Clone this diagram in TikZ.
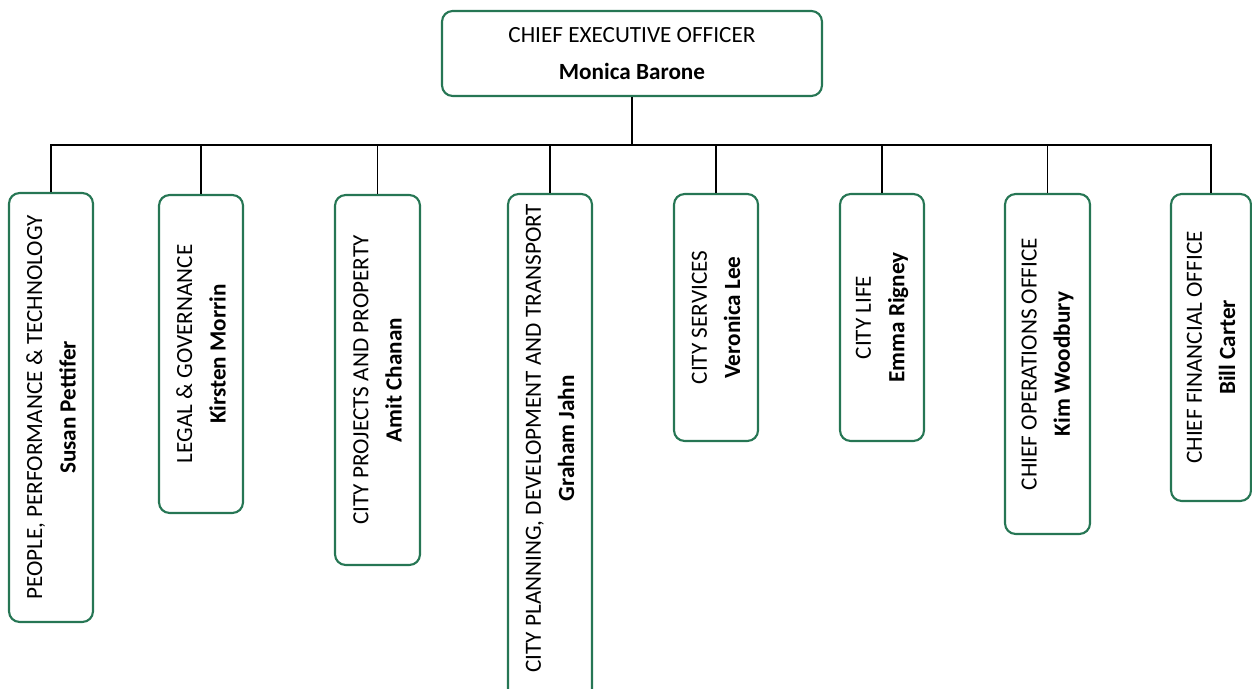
\documentclass[tikz,border=0pt]{standalone}
\usepackage{fontspec}
\setmainfont{Carlito}
\definecolor{boxgreen}{RGB}{38,118,84}
\tikzset{
  unit/.style={draw=boxgreen, line width=1.2pt, rounded corners=6pt, fill=white,
    inner sep=0pt},
  txt/.style={align=center, inner sep=0pt,
    font=\fontsize{13.2}{19}\selectfont},
  link/.style={draw=black, line width=0.6pt}
}
\begin{document}
\begin{tikzpicture}[x=0.02cm, y=-0.02cm]
    % page frame
    \useasboundingbox (0,0) rectangle (1252,689);

    % Chief executive
    \node[unit, txt, minimum width=7.6cm, minimum height=1.7cm,
      font=\fontsize{13.2}{21}\selectfont] (ceo) at (632,53.5)
      {CHIEF EXECUTIVE OFFICER\\\textbf{Monica Barone}};

    % Bus line
    \coordinate (bus) at (632,145);

    % Directors (boxes)
    \node[unit, minimum width=1.68cm, minimum height=8.58cm] (ppt) at (51,407.5) {};
    \node[unit, minimum width=1.68cm, minimum height=6.36cm] (legal) at (201,354) {};
    \node[unit, minimum width=1.7cm, minimum height=7.4cm] (projects) at (377.5,380) {};
    \node[unit, minimum width=1.68cm, minimum height=10.32cm] (planning) at (550,452) {};
    \node[unit, minimum width=1.68cm, minimum height=4.94cm] (services) at (716,317.5) {};
    \node[unit, minimum width=1.68cm, minimum height=4.94cm] (life) at (882,317.5) {};
    \node[unit, minimum width=1.7cm, minimum height=6.8cm] (coo) at (1047.5,364) {};
    \node[unit, minimum width=1.6cm, minimum height=6.14cm] (cfo) at (1211,347.5) {};

    % Directors (texts)
    \node[txt, rotate=90] (ppt-t) at (ppt)
      {PEOPLE, PERFORMANCE \& TECHNOLOGY\\\textbf{Susan Pettifer}};
    \node[txt, rotate=90] (legal-t) at (legal)
      {LEGAL \& GOVERNANCE\\\textbf{Kirsten Morrin}};
    \node[txt, rotate=90] (projects-t) at (projects)
      {CITY PROJECTS AND PROPERTY\\\textbf{Amit Chanan}};
    \node[txt, rotate=90, anchor=east] (planning-t) at ([yshift=-6pt]planning.north)
      {CITY PLANNING, DEVELOPMENT AND TRANSPORT\\\textbf{Graham Jahn}};
    \node[txt, rotate=90] (services-t) at (services)
      {CITY SERVICES\\\textbf{Veronica Lee}};
    \node[txt, rotate=90] (life-t) at (life)
      {CITY LIFE\\\textbf{Emma Rigney}};
    \node[txt, rotate=90] (coo-t) at (coo)
      {CHIEF OPERATIONS OFFICE\\\textbf{Kim Woodbury}};
    \node[txt, rotate=90] (cfo-t) at (cfo)
      {CHIEF FINANCIAL OFFICE\\\textbf{Bill Carter}};

    % Connectors
    \draw[link] (ceo.south) -- (bus);
    \draw[link] (bus) -| (ppt.north);
    \draw[link] (bus) -| (legal.north);
    \draw[link] (bus) -| (projects.north);
    \draw[link] (bus) -| (planning.north);
    \draw[link] (bus) -| (services.north);
    \draw[link] (bus) -| (life.north);
    \draw[link] (bus) -| (coo.north);
    \draw[link] (bus) -| (cfo.north);
\end{tikzpicture}
\end{document}
